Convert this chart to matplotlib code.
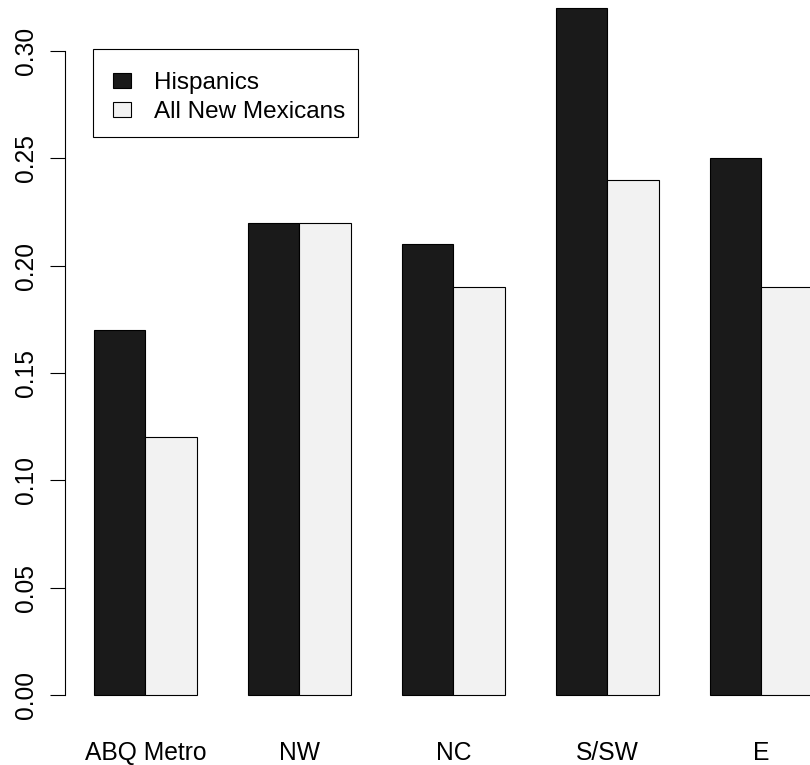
import numpy as np
import matplotlib.pyplot as plt
from matplotlib.patches import Patch, Rectangle

plt.rcParams['font.family'] = ['Liberation Sans', 'DejaVu Sans']

regions = ['ABQ Metro', 'NW', 'NC', 'S/SW', 'E']
hispanics = [0.17, 0.22, 0.21, 0.32, 0.25]
all_nm = [0.12, 0.22, 0.19, 0.24, 0.19]
series_names = ['Hispanics', 'All New Mexicans']
yticks = [0.00, 0.05, 0.10, 0.15, 0.20, 0.25, 0.30]

colors = ['#1a1a1a', '#f2f2f2']

W, H = 810, 765
fig = plt.figure(figsize=(W / 100, H / 100), dpi=100)
# plot region in pixels (R-style, region runs past right/top edge)
left_px, right_px = 65.3, 841.4
top_px, bottom_px = -19.4, 722.5
ax = fig.add_axes([left_px / W, (H - bottom_px) / H,
                   (right_px - left_px) / W, (bottom_px - top_px) / H])

x = np.arange(len(regions)) * 3 + 1  # R barplot, space=c(0,1)
ax.bar(x, hispanics, width=1, align='edge', color=colors[0],
       edgecolor='black', linewidth=0.8)
ax.bar(x + 1, all_nm, width=1, align='edge', color=colors[1],
       edgecolor='black', linewidth=0.8)

ax.set_xlim(0.44, 15.56)
ax.set_ylim(-0.0128, 0.3328)

for s in ['top', 'right', 'bottom']:
    ax.spines[s].set_visible(False)
ax.spines['left'].set_bounds(0, 0.30)
ax.spines['left'].set_linewidth(0.8)

ax.set_yticks(yticks)
ax.set_yticklabels(['%.2f' % v for v in yticks], rotation=90, va='center')
ax.tick_params(axis='y', length=10.8, width=0.8, labelsize=17.7, pad=9)
ax.set_xticks(x + 1)
ax.set_xticklabels(regions)
ax.tick_params(axis='x', length=0, labelsize=17.7, pad=13)

# legend box drawn by hand (R legend padding is not symmetric)
ax.add_patch(Rectangle((93 / W, 1 - 137 / H), 265 / W, 88 / H,
                       transform=fig.transFigure, facecolor='white',
                       edgecolor='black', linewidth=0.8, zorder=5, clip_on=False))
handles = [Patch(facecolor=c, edgecolor='black', linewidth=0.8) for c in colors]
leg = ax.legend(handles, series_names, loc='upper left',
                bbox_to_anchor=(113 / W, 1 - 72 / H), bbox_transform=fig.transFigure,
                fontsize=17.5, frameon=False, handlelength=0.76, handleheight=0.58,
                handletextpad=0.92, borderpad=0, labelspacing=0.3,
                borderaxespad=0)
leg.set_zorder(6)

fig.savefig('out.png', dpi=100)
